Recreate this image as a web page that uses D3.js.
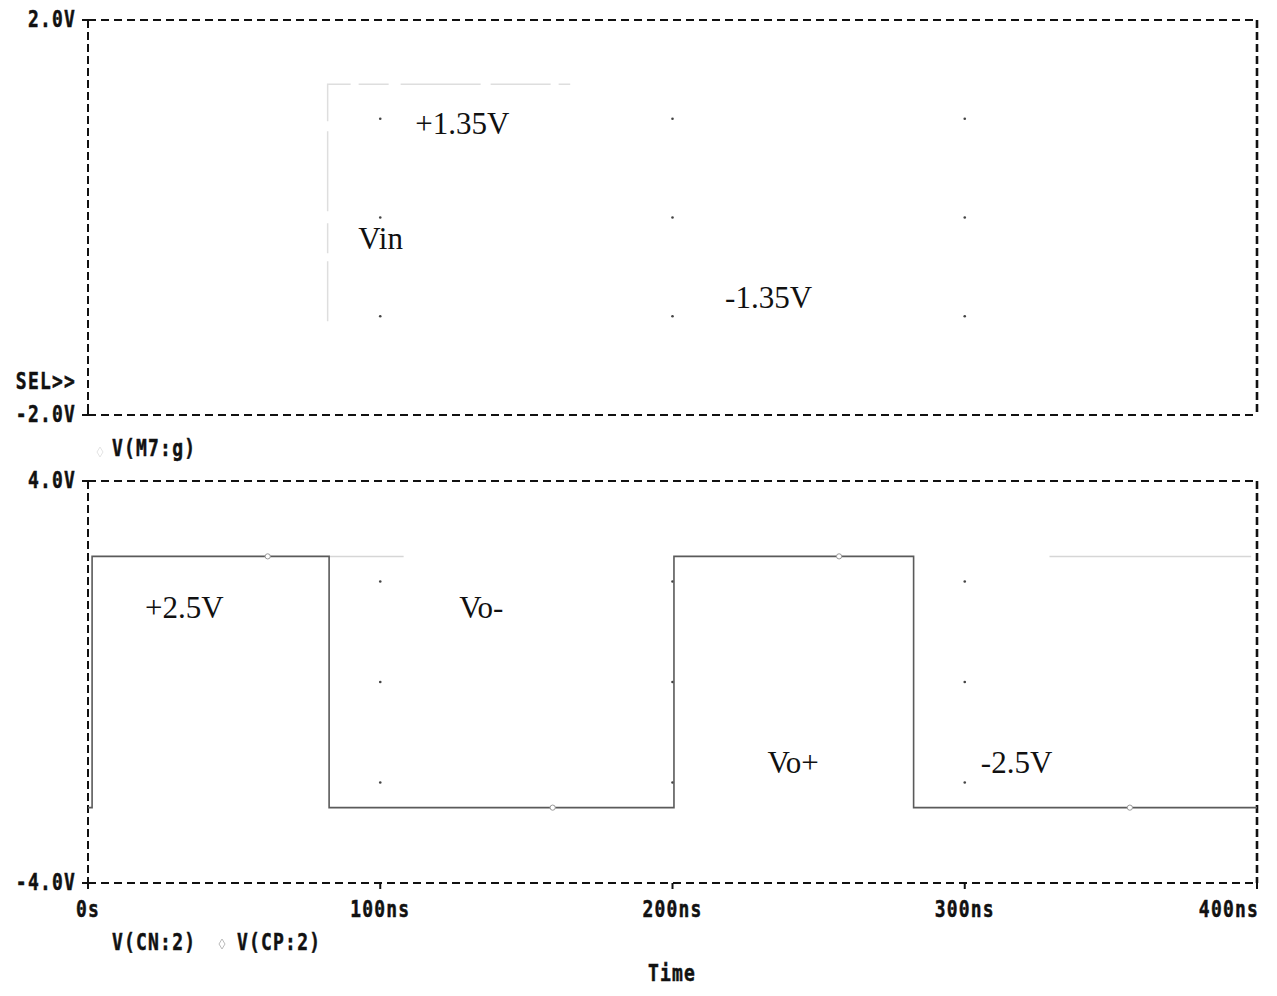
<!DOCTYPE html>
<html>
<head>
<meta charset="utf-8">
<script src="https://cdn.jsdelivr.net/npm/d3@7"></script>
<style>
  html, body { margin: 0; padding: 0; background: #ffffff; }
  svg { display: block; }
</style>
</head>
<body>
<svg id="chart" width="1277" height="996"></svg>
<script>
// ---- data ----
const timeTicks = [0, 100, 200, 300, 400];
const timeTickLabels = ["0s", "100ns", "200ns", "300ns", "400ns"];
const topTicks = [2, -2];
const topTickLabels = ["2.0V", "-2.0V"];
const botTicks = [4, -4];
const botTickLabels = ["4.0V", "-4.0V"];
const gridTimes = [100, 200, 300];
const topGridVolts = [1, 0, -1];
const botGridVolts = [2, 0, -2];

// output square wave, V(CN:2) (time in ns, volts)
const voTime  = [0, 1.4, 1.4, 82.5, 82.5, 200.5, 200.5, 282.5, 282.5, 400];
const voVolts = [-2.5, -2.5, 2.5, 2.5, -2.5, -2.5, 2.5, 2.5, -2.5, -2.5];
const voMarkTime = [61.5, 159, 257, 356.5];
const voMarkVolts = [2.5, -2.5, 2.5, -2.5];

// complementary output V(CP:2), only faintly printed
const voPlusSegStart = [82.5, 329];
const voPlusSegEnd   = [108, 398];
const voPlusLevel    = 2.5;

// input V(M7:g), faintly printed
const vinTime  = [82, 82, 165];
const vinVolts = [-1.05, 1.35, 1.35];

// annotations: [text, time(ns), volts]
const topNotes = [["+1.35V", 112, 0.85], ["Vin", 92.5, -0.32], ["-1.35V", 218, -0.92]];
const botNotes = [["+2.5V", 19.5, 1.27], ["Vo-", 127, 1.27], ["Vo+", 232.5, -1.82], ["-2.5V", 305.5, -1.82]];

// ---- scales ----
const svg = d3.select("#chart");
const x = d3.scaleLinear().domain([0, 400]).range([88, 1257]);
const yTop = d3.scaleLinear().domain([-2, 2]).range([415, 20]);
const yBot = d3.scaleLinear().domain([-4, 4]).range([883, 481]);

const monoFont = "'DejaVu Sans Mono', 'Liberation Mono', monospace";
function axText(px, py, str, anchor) {
  svg.append("text")
    .attr("transform", `translate(${px},${py}) scale(1,1.32)`)
    .attr("text-anchor", anchor || "start")
    .attr("font-family", monoFont)
    .attr("font-weight", "bold")
    .attr("font-size", 18)
    .attr("letter-spacing", 1.2)
    .attr("fill", "#111")
    .attr("stroke", "#111")
    .attr("stroke-width", 0.4)
    .text(str);
}

// ---- panel frames ----
function frame(y) {
  const [y0, y1] = y.range();
  const g = svg.append("g").attr("fill", "none").attr("stroke", "#111").attr("stroke-width", 2);
  g.append("line").attr("x1", x(0)).attr("x2", x(400)).attr("y1", y1).attr("y2", y1).attr("stroke-dasharray", "8,5");
  g.append("line").attr("x1", x(0)).attr("x2", x(400)).attr("y1", y0).attr("y2", y0).attr("stroke-dasharray", "8,5");
  g.append("line").attr("x1", x(0)).attr("x2", x(0)).attr("y1", y1).attr("y2", y0).attr("stroke-dasharray", "8,4");
  g.append("line").attr("x1", x(400)).attr("x2", x(400)).attr("y1", y1).attr("y2", y0).attr("stroke-dasharray", "8,4").attr("stroke-width", 2.6);
  return g;
}
const gTop = frame(yTop);
const gBot = frame(yBot);

// y ticks (small marks left of the axis)
topTicks.forEach(v => gTop.append("line").attr("x1", x(0) - 6).attr("x2", x(0)).attr("y1", yTop(v)).attr("y2", yTop(v)));
botTicks.forEach(v => gBot.append("line").attr("x1", x(0) - 6).attr("x2", x(0)).attr("y1", yBot(v)).attr("y2", yBot(v)));
gTop.append("line").attr("x1", x(0)).attr("x2", x(0)).attr("y1", yTop(2)).attr("y2", yTop(2) + 6);
gTop.append("line").attr("x1", x(0)).attr("x2", x(0)).attr("y1", yTop(-2) - 6).attr("y2", yTop(-2));
// x ticks on the bottom axis
timeTicks.forEach(t => gBot.append("line").attr("x1", x(t)).attr("x2", x(t)).attr("y1", yBot(-4)).attr("y2", yBot(-4) + 6));

// tick labels
topTicks.forEach((v, i) => axText(x(0) - 12, yTop(v) + 7, topTickLabels[i], "end"));
botTicks.forEach((v, i) => axText(x(0) - 12, yBot(v) + 7, botTickLabels[i], "end"));
timeTicks.forEach((t, i) => axText(x(t) + (i === 4 ? 2 : 0), 917, timeTickLabels[i], i === 4 ? "end" : "middle"));
axText(x(0) - 12, 389, "SEL>>", "end");
axText(112, 456, "V(M7:g)");
axText(112, 950, "V(CN:2)");
axText(237, 950, "V(CP:2)");
axText(672, 981, "Time", "middle");

// faint legend symbols
svg.append("path").attr("d", "M222,939 l3,5 l-3,5 l-3,-5 Z").attr("fill", "none").attr("stroke", "#bbb").attr("stroke-width", 1);
svg.append("path").attr("d", "M100,447 l3,5 l-3,5 l-3,-5 Z").attr("fill", "none").attr("stroke", "#e4e4e4").attr("stroke-width", 1);

// grid dots
gridTimes.forEach(t => {
  topGridVolts.forEach(v => svg.append("circle").attr("cx", x(t)).attr("cy", yTop(v)).attr("r", 1.3).attr("fill", "#444"));
  botGridVolts.forEach(v => svg.append("circle").attr("cx", x(t)).attr("cy", yBot(v)).attr("r", 1.3).attr("fill", "#444"));
});

// ---- traces ----
const lineTop = d3.line().x(d => x(d[0])).y(d => yTop(d[1])).curve(d3.curveLinear);
const lineBot = d3.line().x(d => x(d[0])).y(d => yBot(d[1])).curve(d3.curveLinear);

// input trace
svg.append("path")
  .attr("d", lineTop(d3.zip(vinTime, vinVolts)))
  .attr("fill", "none").attr("stroke", "#dedede").attr("stroke-width", 1.5)
  .attr("stroke-dasharray", "60,8,30,12,80,10");

// complementary output trace (faint)
voPlusSegStart.forEach((t0, i) => {
  svg.append("path")
    .attr("d", lineBot([[t0, voPlusLevel], [voPlusSegEnd[i], voPlusLevel]]))
    .attr("fill", "none").attr("stroke", "#d6d6d6").attr("stroke-width", 1.5);
});

// main output trace
svg.append("path")
  .attr("d", lineBot(d3.zip(voTime, voVolts)))
  .attr("fill", "none").attr("stroke", "#5a5a5a").attr("stroke-width", 1.6);

svg.selectAll("circle.mark")
  .data(d3.zip(voMarkTime, voMarkVolts))
  .join("circle")
  .attr("class", "mark")
  .attr("cx", d => x(d[0])).attr("cy", d => yBot(d[1]))
  .attr("r", 2.6).attr("fill", "#fff").attr("stroke", "#999").attr("stroke-width", 1);

// ---- annotations ----
const serif = "'Liberation Serif', 'Times New Roman', serif";
topNotes.forEach(([s, t, v]) => svg.append("text")
  .attr("x", x(t)).attr("y", yTop(v))
  .attr("font-family", serif).attr("font-size", 31).attr("fill", "#111").text(s));
botNotes.forEach(([s, t, v]) => svg.append("text")
  .attr("x", x(t)).attr("y", yBot(v))
  .attr("font-family", serif).attr("font-size", 31).attr("fill", "#111").text(s));
</script>
</body>
</html>
